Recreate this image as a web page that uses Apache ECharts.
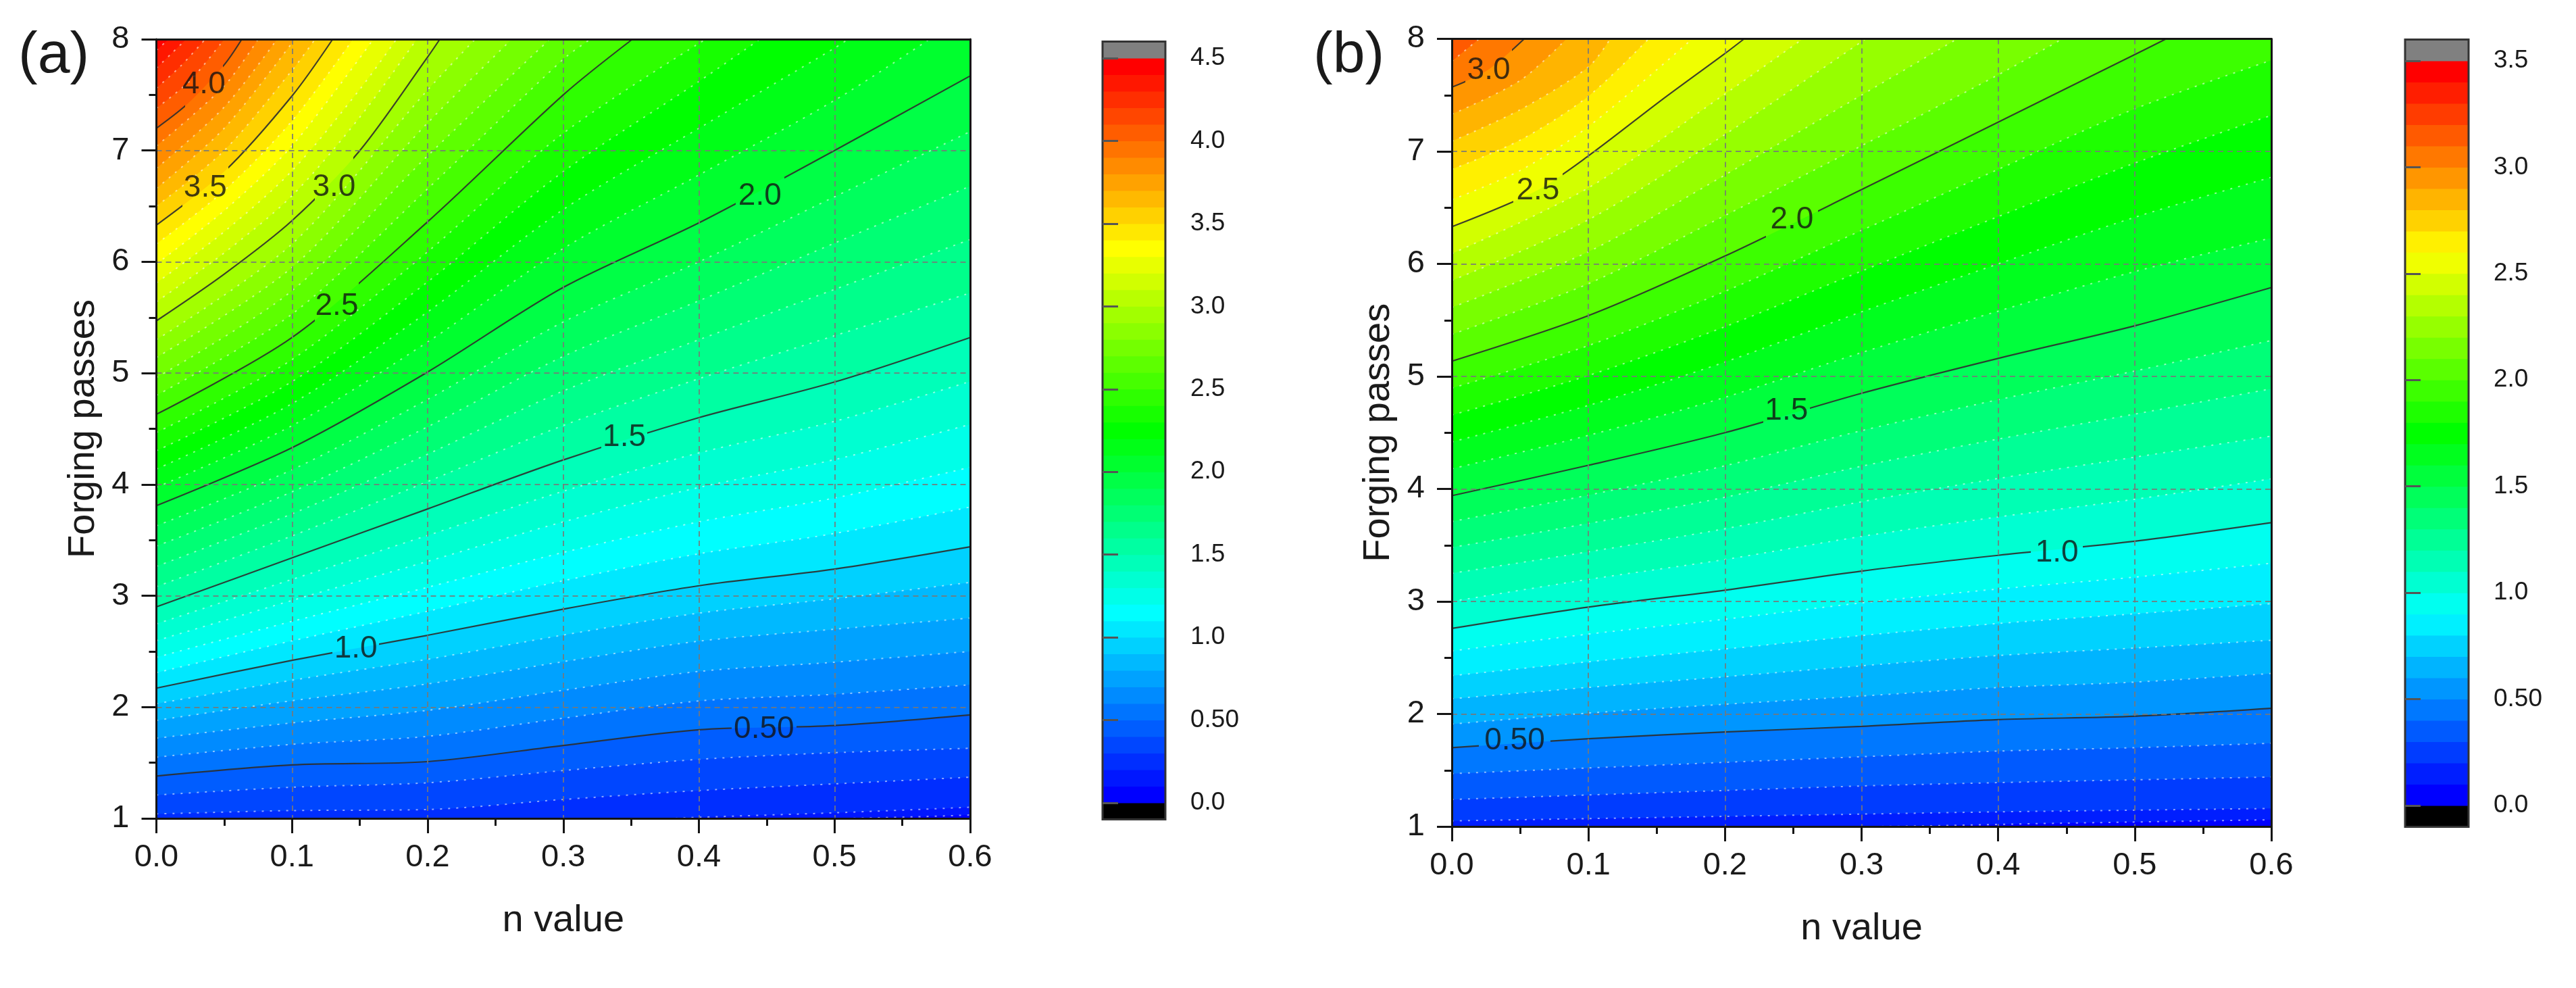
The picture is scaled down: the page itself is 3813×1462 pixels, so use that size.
<!DOCTYPE html>
<html>
<head>
<meta charset="utf-8">
<script src="https://cdn.jsdelivr.net/npm/echarts@6/dist/echarts.min.js"></script>
<style>
  html, body { margin: 0; background: #fff; }
  #chart { width: 3813px; height: 1462px; }
</style>
</head>
<body>
<div id="chart"></div>
<script>
// contour levels (0.1 steps) and where each contour line runs as [n value, passes]
const levelsA = [0.1, 0.2, 0.3, 0.4, 0.5, 0.6, 0.7, 0.8, 0.9, 1.0, 1.1, 1.2, 1.3, 1.4, 1.5, 1.6, 1.7, 1.8, 1.9, 2.0, 2.1, 2.2,
  2.3, 2.4, 2.5, 2.6, 2.7, 2.8, 2.9, 3.0, 3.1, 3.2, 3.3, 3.4, 3.5, 3.6, 3.7, 3.8, 3.9, 4.0, 4.1, 4.2, 4.3, 4.4];
const linesA = [
  [[0, 1], [0.5, 1], [0.6, 1.03]],
  [[0, 1], [0.38, 1], [0.4, 1.01], [0.5, 1.05], [0.6, 1.10]],
  [[0, 1.04], [0.1, 1.07], [0.2, 1.08], [0.3, 1.17], [0.4, 1.25], [0.5, 1.31], [0.6, 1.37]],
  [[0, 1.21], [0.1, 1.28], [0.2, 1.32], [0.3, 1.43], [0.4, 1.53], [0.5, 1.59], [0.6, 1.63]],
  [[0, 1.38], [0.1, 1.48], [0.2, 1.51], [0.3, 1.655], [0.4, 1.796], [0.5, 1.834], [0.6, 1.93]],
  [[0, 1.55], [0.1, 1.665], [0.2, 1.737], [0.3, 1.90], [0.4, 2.055], [0.5, 2.115], [0.6, 2.20]],
  [[0, 1.72], [0.1, 1.858], [0.2, 1.97], [0.3, 2.151], [0.4, 2.32], [0.5, 2.403], [0.6, 2.50]],
  [[0, 1.88], [0.1, 2.057], [0.2, 2.208], [0.3, 2.408], [0.4, 2.592], [0.5, 2.699], [0.6, 2.80]],
  [[0, 2.03], [0.1, 2.241], [0.2, 2.429], [0.3, 2.647], [0.4, 2.844], [0.5, 2.973], [0.6, 3.12]],
  [[0, 2.17], [0.1, 2.42], [0.2, 2.645], [0.3, 2.88], [0.4, 3.09], [0.5, 3.24], [0.6, 3.44]],
  [[0, 2.309], [0.1, 2.595], [0.2, 2.861], [0.3, 3.135], [0.4, 3.377], [0.5, 3.559], [0.6, 3.797]],
  [[0, 2.447], [0.1, 2.77], [0.2, 3.076], [0.3, 3.389], [0.4, 3.664], [0.5, 3.878], [0.6, 4.154]],
  [[0, 2.597], [0.1, 2.958], [0.2, 3.309], [0.3, 3.664], [0.4, 3.973], [0.5, 4.223], [0.6, 4.54]],
  [[0, 2.747], [0.1, 3.147], [0.2, 3.542], [0.3, 3.939], [0.4, 4.283], [0.5, 4.567], [0.6, 4.925]],
  [[0, 2.90], [0.1, 3.34], [0.2, 3.78], [0.3, 4.22], [0.4, 4.60], [0.5, 4.92], [0.6, 5.32]],
  [[0, 3.082], [0.1, 3.538], [0.2, 4.026], [0.3, 4.53], [0.4, 4.95], [0.5, 5.336], [0.6, 5.72]],
  [[0, 3.264], [0.1, 3.736], [0.2, 4.272], [0.3, 4.84], [0.4, 5.30], [0.5, 5.752], [0.6, 6.20]],
  [[0, 3.446], [0.1, 3.934], [0.2, 4.518], [0.3, 5.15], [0.4, 5.65], [0.5, 6.168], [0.6, 6.68]],
  [[0, 3.628], [0.1, 4.132], [0.2, 4.764], [0.3, 5.46], [0.4, 6.0], [0.5, 6.584], [0.6, 7.17]],
  [[0, 3.81], [0.1, 4.33], [0.2, 5.01], [0.3, 5.77], [0.4, 6.35], [0.5, 7.0], [0.6, 7.67]],
  [[0, 3.974], [0.1, 4.528], [0.2, 5.28], [0.3, 6.12], [0.4, 6.78], [0.5, 7.45], [0.57, 8]],
  [[0, 4.138], [0.1, 4.726], [0.2, 5.55], [0.3, 6.47], [0.4, 7.2], [0.5, 7.92], [0.51, 8]],
  [[0, 4.302], [0.1, 4.924], [0.2, 5.82], [0.3, 6.81], [0.4, 7.62], [0.445, 8]],
  [[0, 4.466], [0.1, 5.122], [0.2, 6.09], [0.3, 7.155], [0.405, 8]],
  [[0, 4.63], [0.1, 5.32], [0.2, 6.36], [0.3, 7.5], [0.351, 8]],
  [[0, 4.80], [0.1, 5.53], [0.2, 6.656], [0.3, 7.82], [0.32, 8]],
  [[0, 4.96], [0.1, 5.74], [0.2, 6.952], [0.29, 8]],
  [[0, 5.14], [0.1, 5.95], [0.2, 7.248], [0.262, 8]],
  [[0, 5.30], [0.1, 6.16], [0.2, 7.544], [0.235, 8]],
  [[0, 5.47], [0.05, 5.89], [0.1, 6.37], [0.15, 7.0], [0.2, 7.84], [0.209, 8]],
  [[0, 5.64], [0.05, 6.08], [0.1, 6.594], [0.15, 7.3], [0.192, 8]],
  [[0, 5.81], [0.05, 6.27], [0.1, 6.818], [0.15, 7.55], [0.177, 8]],
  [[0, 5.98], [0.05, 6.46], [0.1, 7.042], [0.16, 8]],
  [[0, 6.16], [0.05, 6.64], [0.1, 7.266], [0.145, 8]],
  [[0, 6.33], [0.05, 6.81], [0.1, 7.49], [0.13, 8]],
  [[0, 6.50], [0.05, 7.0], [0.1, 7.72], [0.117, 8]],
  [[0, 6.66], [0.05, 7.2], [0.102, 8]],
  [[0, 6.84], [0.05, 7.39], [0.089, 8]],
  [[0, 7.04], [0.05, 7.58], [0.075, 8]],
  [[0, 7.20], [0.023, 7.42], [0.05, 7.77], [0.063, 8]],
  [[0, 7.38], [0.025, 7.63], [0.05, 8]],
  [[0, 7.56], [0.018, 7.76], [0.036, 8]],
  [[0, 7.74], [0.011, 7.87], [0.022, 8]],
  [[0, 7.9], [0.009, 8]]
];
// [text, n value, passes, half width of the gap cut in the line]
const labelsA = [
  ['4.0', 0.035, 7.59, 0.014],
  ['3.5', 0.036, 6.66, 0.017],
  ['3.0', 0.131, 6.67, 0.014],
  ['2.5', 0.133, 5.60, 0.016],
  ['2.0', 0.445, 6.59, 0.018],
  ['1.5', 0.345, 4.42, 0.017],
  ['1.0', 0.147, 2.52, 0.017],
  ['0.50', 0.448, 1.80, 0.024]
];

const levelsB = [0.1, 0.2, 0.3, 0.4, 0.5, 0.6, 0.7, 0.8, 0.9, 1.0, 1.1, 1.2, 1.3, 1.4, 1.5, 1.6, 1.7, 1.8, 1.9, 2.0, 2.1,
  2.2, 2.3, 2.4, 2.5, 2.6, 2.7, 2.8, 2.9, 3.0, 3.1];
const linesB = [
  [[0, 1], [0.3, 1], [0.45, 1.03], [0.6, 1.06]],
  [[0, 1.05], [0.1, 1.07], [0.2, 1.09], [0.3, 1.11], [0.4, 1.13], [0.5, 1.145], [0.6, 1.16]],
  [[0, 1.24], [0.1, 1.28], [0.2, 1.32], [0.3, 1.36], [0.4, 1.39], [0.5, 1.415], [0.6, 1.44]],
  [[0, 1.47], [0.1, 1.52], [0.2, 1.57], [0.3, 1.62], [0.4, 1.67], [0.5, 1.70], [0.6, 1.74]],
  [[0, 1.70], [0.1, 1.78], [0.2, 1.84], [0.3, 1.89], [0.4, 1.95], [0.5, 1.98], [0.6, 2.05]],
  [[0, 1.91], [0.1, 2.008], [0.2, 2.086], [0.3, 2.159], [0.4, 2.235], [0.5, 2.283], [0.6, 2.36]],
  [[0, 2.135], [0.1, 2.236], [0.2, 2.331], [0.3, 2.428], [0.4, 2.519], [0.5, 2.586], [0.6, 2.655]],
  [[0, 2.34], [0.1, 2.464], [0.2, 2.577], [0.3, 2.697], [0.4, 2.804], [0.5, 2.89], [0.6, 2.98]],
  [[0, 2.56], [0.1, 2.71], [0.2, 2.842], [0.3, 2.987], [0.4, 3.111], [0.5, 3.216], [0.6, 3.34]],
  [[0, 2.76], [0.1, 2.95], [0.2, 3.10], [0.3, 3.27], [0.4, 3.41], [0.5, 3.535], [0.6, 3.70]],
  [[0, 3.0], [0.1, 3.196], [0.2, 3.373], [0.3, 3.578], [0.4, 3.751], [0.5, 3.908], [0.6, 4.09]],
  [[0, 3.25], [0.1, 3.441], [0.2, 3.646], [0.3, 3.886], [0.4, 4.093], [0.5, 4.282], [0.6, 4.47]],
  [[0, 3.48], [0.1, 3.693], [0.2, 3.926], [0.3, 4.202], [0.4, 4.443], [0.5, 4.665], [0.6, 4.89]],
  [[0, 3.71], [0.1, 3.945], [0.2, 4.206], [0.3, 4.518], [0.4, 4.793], [0.5, 5.048], [0.6, 5.32]],
  [[0, 3.94], [0.1, 4.21], [0.2, 4.50], [0.3, 4.85], [0.4, 5.16], [0.5, 5.45], [0.6, 5.79]],
  [[0, 4.179], [0.1, 4.476], [0.2, 4.814], [0.3, 5.212], [0.4, 5.58], [0.5, 5.932], [0.6, 6.23]],
  [[0, 4.418], [0.1, 4.742], [0.2, 5.128], [0.3, 5.574], [0.4, 6.0], [0.5, 6.414], [0.6, 6.77]],
  [[0, 4.657], [0.1, 5.008], [0.2, 5.442], [0.3, 5.936], [0.4, 6.42], [0.5, 6.896], [0.6, 7.32]],
  [[0, 4.896], [0.1, 5.274], [0.2, 5.756], [0.3, 6.298], [0.4, 6.84], [0.5, 7.378], [0.6, 7.81]],
  [[0, 5.135], [0.1, 5.54], [0.2, 6.07], [0.3, 6.66], [0.4, 7.26], [0.5, 7.86], [0.523, 8]],
  [[0, 5.374], [0.1, 5.824], [0.2, 6.43], [0.3, 7.05], [0.4, 7.68], [0.447, 8]],
  [[0, 5.613], [0.1, 6.108], [0.2, 6.79], [0.3, 7.5], [0.37, 8]],
  [[0, 5.852], [0.1, 6.392], [0.2, 7.15], [0.303, 8]],
  [[0, 6.091], [0.1, 6.676], [0.2, 7.51], [0.257, 8]],
  [[0, 6.33], [0.062, 6.65], [0.1, 6.96], [0.154, 7.46], [0.2, 7.87], [0.214, 8]],
  [[0, 6.57], [0.05, 6.83], [0.1, 7.22], [0.176, 8]],
  [[0, 6.84], [0.05, 7.1], [0.1, 7.49], [0.144, 8]],
  [[0, 7.09], [0.05, 7.37], [0.1, 7.75], [0.116, 8]],
  [[0, 7.33], [0.05, 7.63], [0.084, 8]],
  [[0, 7.57], [0.026, 7.72], [0.053, 8]],
  [[0, 7.8], [0.02, 8]]
];
const labelsB = [
  ['3.0', 0.027, 7.72, 0.017],
  ['2.5', 0.063, 6.65, 0.018],
  ['2.0', 0.249, 6.39, 0.019],
  ['1.5', 0.245, 4.69, 0.017],
  ['1.0', 0.443, 3.43, 0.019],
  ['0.50', 0.046, 1.76, 0.026]
];

// colour bar step edges and labelled ticks
const barEdgesA = [0, 0.1, 0.2, 0.3, 0.4, 0.5, 0.6, 0.7, 0.8, 0.9, 1.0, 1.1, 1.2, 1.3, 1.4, 1.5, 1.6, 1.7, 1.8, 1.9, 2.0,
  2.1, 2.2, 2.3, 2.4, 2.5, 2.6, 2.7, 2.8, 2.9, 3.0, 3.1, 3.2, 3.3, 3.4, 3.5, 3.6, 3.7, 3.8, 3.9, 4.0, 4.1, 4.2, 4.3, 4.4, 4.5];
const barEdgesB = [0, 0.1, 0.2, 0.3, 0.4, 0.5, 0.6, 0.7, 0.8, 0.9, 1.0, 1.1, 1.2, 1.3, 1.4, 1.5, 1.6, 1.7, 1.8, 1.9, 2.0,
  2.1, 2.2, 2.3, 2.4, 2.5, 2.6, 2.7, 2.8, 2.9, 3.0, 3.1, 3.2, 3.3, 3.4, 3.5];
const cbTicksA = [0, 0.5, 1.0, 1.5, 2.0, 2.5, 3.0, 3.5, 4.0, 4.5];
const cbTicksB = [0, 0.5, 1.0, 1.5, 2.0, 2.5, 3.0, 3.5];

const FONT = "'Liberation Sans', Arial, sans-serif";
const INK = '#1a1a1a';
const LINE = 'rgba(45,45,45,0.9)';

// Origin-like rainbow: blue -> cyan -> green -> yellow -> red
function rainbow(t) {
  const stops = [[0, 0, 255], [0, 255, 255], [0, 255, 0], [255, 255, 0], [255, 0, 0]];
  const p = Math.min(Math.max(t, 0), 1) * 4;
  const i = Math.min(Math.floor(p), 3);
  const f = p - i;
  const c = stops[i].map((v, k) => Math.round(v + (stops[i + 1][k] - v) * f));
  return 'rgb(' + c.join(',') + ')';
}

function bandColors(edges) {
  const n = edges.length - 1;
  const out = [];
  for (let k = 0; k < n; k++) out.push(rainbow(k / (n - 1)));
  return out;
}

const colorsA = bandColors(barEdgesA);
const colorsB = bandColors(barEdgesB);

const series = [];
const visualMap = [];

function addContours(levels, lines, labels, colors, ax) {
  // every level's region sits above its line, so each band is filled up to the top
  levels.forEach((lv, i) => {
    series.push({
      type: 'line', xAxisIndex: ax, yAxisIndex: ax, data: lines[i],
      smooth: 0.3, symbol: 'none', silent: true, z: 2,
      lineStyle: { width: 0 },
      areaStyle: { origin: 'end', color: colors[Math.round(lv * 10)], opacity: 1 }
    });
  });
  levels.forEach((lv, i) => {
    const major = Math.abs(lv * 2 - Math.round(lv * 2)) < 1e-6;
    series.push({
      type: 'line', xAxisIndex: ax, yAxisIndex: ax, data: lines[i],
      smooth: 0.3, symbol: 'none', silent: true, z: 3,
      itemStyle: { color: major ? LINE : 'rgba(255,255,255,0.55)' },
      lineStyle: major ? { width: 2.2 } : { color: 'rgba(255,255,255,0.55)', width: 2, type: [3, 9] }
    });
    if (major) {
      const lab = labels.find(l => Math.abs(parseFloat(l[0]) - lv) < 1e-6);
      if (lab) {
        // leave a gap in the line where its label sits
        const a = lab[1] - lab[3], b = lab[1] + lab[3];
        visualMap.push({
          type: 'piecewise', show: false, dimension: 0, seriesIndex: series.length - 1,
          pieces: [{ lt: a, color: LINE }, { gte: a, lte: b, color: 'rgba(0,0,0,0)' }, { gt: b, color: LINE }]
        });
      }
    }
  });
  series.push({
    type: 'scatter', xAxisIndex: ax, yAxisIndex: ax, silent: true, z: 5,
    symbolSize: 1, itemStyle: { color: 'rgba(0,0,0,0)' },
    data: labels.map(l => ({ name: l[0], value: [l[1], l[2]] })),
    label: { show: true, position: 'inside', formatter: '{b}', fontSize: 46, fontFamily: FONT, color: '#111' }
  });
}

function addColorBar(edges, colors, ax) {
  const lo = edges[0], hi = edges[edges.length - 1];
  const data = [{ value: [lo - 0.1, lo], itemStyle: { color: '#000' } }];
  colors.forEach((c, k) => data.push({ value: [edges[k], edges[k + 1]], itemStyle: { color: c } }));
  data.push({ value: [hi, hi + 0.1], itemStyle: { color: '#808080' } });
  series.push({
    type: 'custom', xAxisIndex: ax, yAxisIndex: ax, silent: true, data: data,
    renderItem: (params, api) => {
      const p0 = api.coord([0, api.value(0)]);
      const p1 = api.coord([1, api.value(1)]);
      return {
        type: 'rect',
        shape: { x: p0[0], y: p1[1] - 0.5, width: p1[0] - p0[0], height: p0[1] - p1[1] + 1 },
        style: { fill: api.visual('color') }
      };
    }
  });
}

addContours(levelsA, linesA, labelsA, colorsA, 0);
addContours(levelsB, linesB, labelsB, colorsB, 1);
addColorBar(barEdgesA, colorsA, 2);
addColorBar(barEdgesB, colorsB, 3);

const axisLineStyle = { color: '#151515', width: 3 };
const gridLineStyle = { color: 'rgba(120,120,120,0.85)', width: 2, type: [8, 6] };

function xBottom(gi) {
  return {
    type: 'value', gridIndex: gi, min: 0, max: 0.6, interval: 0.1, position: 'bottom', z: 10,
    axisLine: { show: true, onZero: false, lineStyle: axisLineStyle },
    axisTick: { show: true, length: 22, lineStyle: axisLineStyle },
    minorTick: { show: true, splitNumber: 2, length: 11, lineStyle: axisLineStyle },
    axisLabel: { margin: 35, fontSize: 47, fontFamily: FONT, color: INK, formatter: v => v.toFixed(1) },
    splitLine: { show: true, lineStyle: gridLineStyle },
    name: 'n value', nameLocation: 'middle', nameGap: 124,
    nameTextStyle: { fontSize: 56, fontFamily: FONT, color: INK }
  };
}
function xTop(gi) {
  return {
    type: 'value', gridIndex: gi, min: 0, max: 0.6, position: 'top', z: 10,
    axisLine: { show: true, onZero: false, lineStyle: axisLineStyle },
    axisTick: { show: false }, axisLabel: { show: false }, splitLine: { show: false }
  };
}
function yLeft(gi) {
  return {
    type: 'value', gridIndex: gi, min: 1, max: 8, interval: 1, position: 'left', z: 10,
    axisLine: { show: true, onZero: false, lineStyle: axisLineStyle },
    axisTick: { show: true, length: 22, lineStyle: axisLineStyle },
    minorTick: { show: true, splitNumber: 2, length: 11, lineStyle: axisLineStyle },
    axisLabel: { margin: 40, fontSize: 47, fontFamily: FONT, color: INK },
    splitLine: { show: true, lineStyle: gridLineStyle },
    name: 'Forging passes', nameLocation: 'middle', nameGap: 80,
    nameTextStyle: { fontSize: 56, fontFamily: FONT, color: INK }
  };
}
function yRight(gi) {
  return {
    type: 'value', gridIndex: gi, min: 1, max: 8, position: 'right', z: 10,
    axisLine: { show: true, onZero: false, lineStyle: axisLineStyle },
    axisTick: { show: false }, axisLabel: { show: false }, splitLine: { show: false }
  };
}
function xBar(gi) {
  return { type: 'value', gridIndex: gi, min: 0, max: 1, show: false };
}
function yBar(gi, edges, ticks) {
  return {
    type: 'value', gridIndex: gi, min: edges[0] - 0.1, max: edges[edges.length - 1] + 0.1, position: 'right', z: 10,
    axisLine: { show: false },
    axisTick: { show: true, customValues: ticks, length: 23, lineStyle: { color: '#555', width: 3 } },
    axisLabel: {
      show: true, customValues: ticks, margin: 37, fontSize: 37, fontFamily: FONT, color: INK,
      formatter: v => (Math.abs(v - 0.5) < 1e-9 ? '0.50' : v.toFixed(1))
    },
    splitLine: { show: false }
  };
}

const chart = echarts.init(document.getElementById('chart'), null, { renderer: 'canvas' });
chart.setOption({
  animation: false,
  backgroundColor: '#fff',
  grid: [
    { left: 231.5, top: 58, width: 1204.5, height: 1153, show: true, backgroundColor: colorsA[0], borderWidth: 0, outerBoundsMode: 'none' },
    { left: 2149, top: 57.5, width: 1213, height: 1165.5, show: true, backgroundColor: colorsB[0], borderWidth: 0, outerBoundsMode: 'none' },
    { left: 1632, top: 61.5, width: 93, height: 1151, show: true, z: 10, backgroundColor: 'transparent', borderColor: '#333', borderWidth: 3, outerBoundsMode: 'none' },
    { left: 3560, top: 58.5, width: 94, height: 1165, show: true, z: 10, backgroundColor: 'transparent', borderColor: '#333', borderWidth: 3, outerBoundsMode: 'none' }
  ],
  xAxis: [xBottom(0), xBottom(1), xBar(2), xBar(3), xTop(0), xTop(1)],
  yAxis: [yLeft(0), yLeft(1), yBar(2, barEdgesA, cbTicksA), yBar(3, barEdgesB, cbTicksB), yRight(0), yRight(1)],
  visualMap: visualMap,
  graphic: [
    { type: 'text', left: 27, top: 40, style: { text: '(a)', fontSize: 86, fontFamily: FONT, fill: INK } },
    { type: 'text', left: 1944, top: 40, style: { text: '(b)', fontSize: 86, fontFamily: FONT, fill: INK } }
  ],
  series: series
});
</script>
